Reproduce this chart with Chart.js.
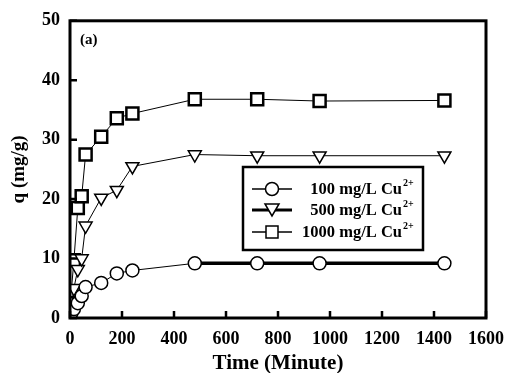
<!DOCTYPE html>
<html>
<head>
<meta charset="utf-8">
<script src="https://cdn.jsdelivr.net/npm/chart.js@4.4.1/dist/chart.umd.min.js"></script>
<style>
  html, body { margin: 0; padding: 0; background: #fff; }
  #wrap { width: 515px; height: 373px; }
</style>
</head>
<body>
<div id="wrap"><canvas id="myChart" width="515" height="373"></canvas></div>
<script>
// adsorption kinetics data
const timeMin = [5, 15, 30, 45, 60, 120, 180, 240, 480, 720, 960, 1440];
const q100  = [0.8, 1.5, 2.5, 3.7, 5.2, 5.9, 7.5, 8.0, 9.2, 9.2, 9.2, 9.2];
const q500  = [2.0, 5.0, 8.2, 10.0, 15.5, 20.2, 21.5, 25.5, 27.5, 27.3, 27.3, 27.3];
const q1000 = [4.5, 9.7, 18.5, 20.5, 27.5, 30.5, 33.6, 34.4, 36.8, 36.8, 36.5, 36.6];
const seriesLabels = ['100 mg/L Cu', '500 mg/L Cu', '1000 mg/L Cu'];
const xTicks = [0, 200, 400, 600, 800, 1000, 1200, 1400, 1600];
const yTicks = [0, 10, 20, 30, 40, 50];

const serif = '"Liberation Serif", "DejaVu Serif", serif';

function pts(ys) {
    return timeMin.map((t, i) => ({x: t, y: ys[i]}));
}

// frame, inward ticks, panel tag and the boxed legend
const decorPlugin = {
    id: 'decor',
    afterDraw(chart) {
        const ctx = chart.ctx;
        const a = chart.chartArea;
        const xs = chart.scales.x, ys = chart.scales.y;
        ctx.save();
        ctx.strokeStyle = '#000';
        ctx.lineWidth = 3;
        ctx.strokeRect(a.left, a.top, a.right - a.left, a.bottom - a.top);
        ctx.lineWidth = 2.5;
        ctx.beginPath();
        xTicks.forEach(v => {
            const px = xs.getPixelForValue(v);
            ctx.moveTo(px, a.bottom);
            ctx.lineTo(px, a.bottom - 7);
        });
        yTicks.forEach(v => {
            const py = ys.getPixelForValue(v);
            ctx.moveTo(a.left, py);
            ctx.lineTo(a.left + 7, py);
        });
        ctx.stroke();

        ctx.fillStyle = '#000';
        ctx.font = 'bold 15px ' + serif;
        ctx.textBaseline = 'middle';
        ctx.fillText('(a)', a.left + 10, 40);

        // legend box
        const bx = 243, by = 167, bw = 180, bh = 83;
        ctx.lineWidth = 2.5;
        ctx.strokeRect(bx, by, bw, bh);
        const rows = [by + 22, by + 43, by + 65];
        chart.data.datasets.forEach((ds, i) => {
            const y = rows[i];
            ctx.lineWidth = i === 1 ? 3 : 1.5;
            ctx.beginPath();
            ctx.moveTo(bx + 9, y);
            ctx.lineTo(bx + 49, y);
            ctx.stroke();
            ctx.lineWidth = 1.5;
            ctx.fillStyle = '#fff';
            ctx.beginPath();
            if (i === 0) {
                ctx.arc(bx + 29, y, 6.5, 0, Math.PI * 2);
            } else if (i === 1) {
                ctx.moveTo(bx + 22, y - 6);
                ctx.lineTo(bx + 36, y - 6);
                ctx.lineTo(bx + 29, y + 6);
                ctx.closePath();
            } else {
                ctx.rect(bx + 23, y - 6, 12, 12);
            }
            ctx.fill();
            ctx.stroke();
            ctx.fillStyle = '#000';
            ctx.font = 'bold 16.5px ' + serif;
            ctx.textAlign = 'right';
            ctx.textBaseline = 'middle';
            const endX = bx + bw - 21;
            ctx.fillText(ds.label, endX, y + 1);
            ctx.font = 'bold 10px ' + serif;
            ctx.textAlign = 'left';
            ctx.fillText('2+', endX + 1, y - 6);
        });
        ctx.restore();
    }
};

document.addEventListener("DOMContentLoaded", function() {
    const ctx = document.getElementById('myChart').getContext('2d');
    const myChart = new Chart(ctx, {
        type: 'line',
        data: {
            datasets: [{
                label: seriesLabels[0],
                data: pts(q100),
                borderColor: '#000',
                borderWidth: 1,
                segment: {
                    borderWidth: c => c.p0DataIndex >= 8 ? 3.5 : 1
                },
                pointStyle: 'circle',
                pointRadius: 6.5,
                pointBorderWidth: 1.5,
                pointBackgroundColor: '#fff',
                pointBorderColor: '#000'
            }, {
                label: seriesLabels[1],
                data: pts(q500),
                borderColor: '#000',
                borderWidth: 1,
                pointStyle: 'triangle',
                rotation: 180,
                pointRadius: 7.5,
                pointBorderWidth: 1.5,
                pointBackgroundColor: '#fff',
                pointBorderColor: '#000'
            }, {
                label: seriesLabels[2],
                data: pts(q1000),
                borderColor: '#000',
                borderWidth: 1,
                pointStyle: 'rect',
                pointRadius: 8.5,
                pointBorderWidth: 2.5,
                pointBackgroundColor: '#fff',
                pointBorderColor: '#000'
            }]
        },
        options: {
            responsive: false,
            animation: false,
            layout: { padding: { left: 0, right: 22, top: 20, bottom: 0 } },
            scales: {
                x: {
                    type: 'linear',
                    min: 0, max: 1600,
                    afterBuildTicks: s => { s.ticks = xTicks.map(v => ({value: v})); },
                    afterFit: s => { s.height = 55; },
                    grid: { display: false, drawTicks: false },
                    border: { display: false },
                    ticks: {
                        color: '#000',
                        padding: 11,
                        callback: v => String(v),
                        font: { family: serif, weight: 'bold', size: 18 }
                    },
                    title: {
                        display: true,
                        text: 'Time (Minute)',
                        color: '#000',
                        padding: { top: 0, bottom: -1 },
                        font: { family: serif, weight: 'bold', size: 21, lineHeight: 1 }
                    }
                },
                y: {
                    min: 0, max: 50,
                    afterBuildTicks: s => { s.ticks = yTicks.map(v => ({value: v})); },
                    afterFit: s => { s.width = 70; },
                    grid: { display: false, drawTicks: false },
                    border: { display: false },
                    ticks: {
                        color: '#000',
                        padding: 10,
                        callback: v => String(v),
                        font: { family: serif, weight: 'bold', size: 18 }
                    },
                    title: {
                        display: true,
                        text: 'q (mg/g)',
                        color: '#000',
                        padding: { top: 8, bottom: 0 },
                        font: { family: serif, weight: 'bold', size: 19 }
                    }
                }
            },
            plugins: {
                legend: { display: false },
                tooltip: { enabled: false }
            }
        },
        plugins: [decorPlugin]
    });
});
</script>
</body>
</html>
